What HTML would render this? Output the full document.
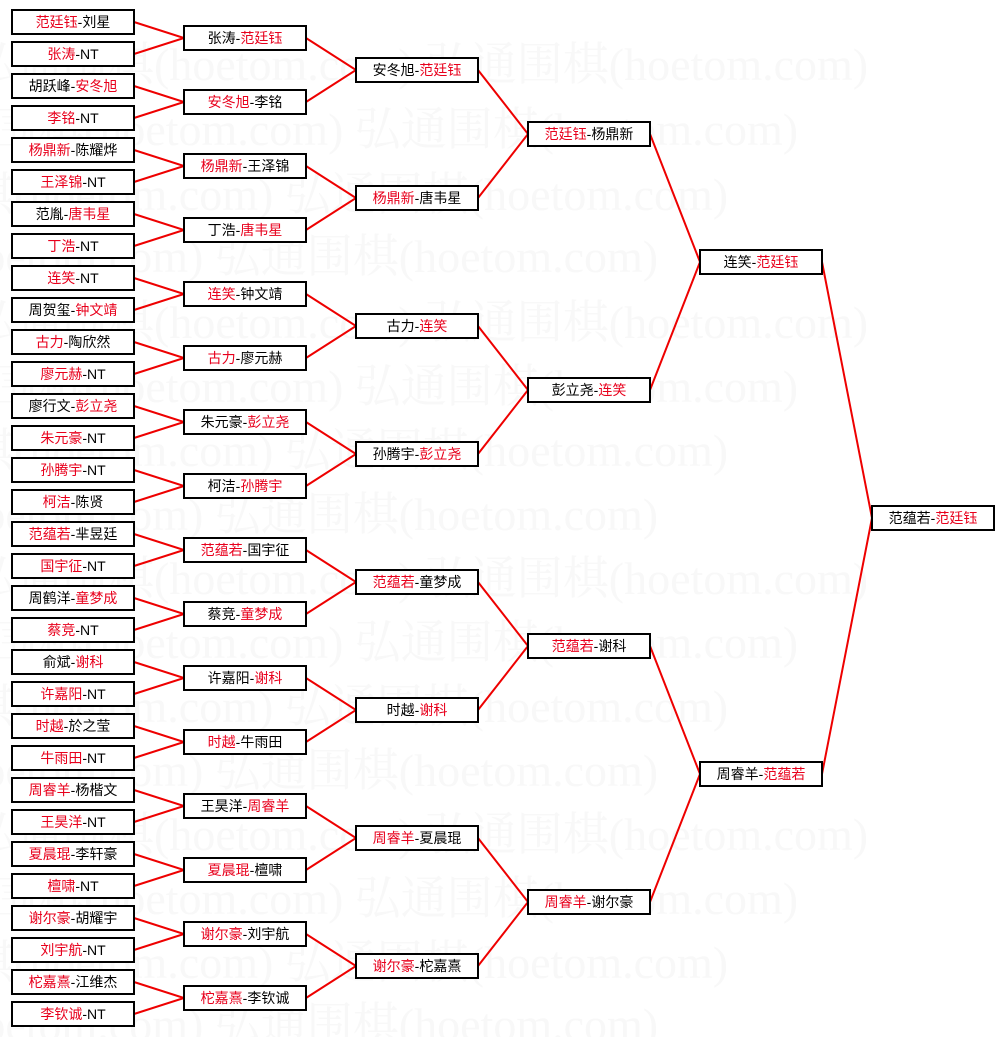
<!DOCTYPE html>
<html><head><meta charset="utf-8"><style>
html,body{margin:0;padding:0;background:#fff;width:1005px;height:1037px;overflow:hidden}
svg{display:block}
text{font-family:"Liberation Sans","Noto Sans CJK SC",sans-serif;font-size:14px;fill:#000}
.r{fill:#e8001c}
.w{font-size:46px;fill:#f8f8f8;font-family:"Liberation Serif","Noto Serif CJK SC",serif}
rect{fill:#fff;stroke:#000;stroke-width:2}
path{fill:none;stroke:#e00;stroke-width:2}
</style></head><body>
<svg width="1005" height="1037" xmlns="http://www.w3.org/2000/svg">
<g>
<text class="w" x="-30" y="80">弘通围棋(hoetom.com) 弘通围棋(hoetom.com)</text>
<text class="w" x="-100" y="145">弘通围棋(hoetom.com) 弘通围棋(hoetom.com)</text>
<text class="w" x="-170" y="210">弘通围棋(hoetom.com) 弘通围棋(hoetom.com)</text>
<text class="w" x="-240" y="272">弘通围棋(hoetom.com) 弘通围棋(hoetom.com)</text>
<text class="w" x="-30" y="338">弘通围棋(hoetom.com) 弘通围棋(hoetom.com)</text>
<text class="w" x="-100" y="402">弘通围棋(hoetom.com) 弘通围棋(hoetom.com)</text>
<text class="w" x="-170" y="466">弘通围棋(hoetom.com) 弘通围棋(hoetom.com)</text>
<text class="w" x="-240" y="530">弘通围棋(hoetom.com) 弘通围棋(hoetom.com)</text>
<text class="w" x="-30" y="594">弘通围棋(hoetom.com) 弘通围棋(hoetom.com)</text>
<text class="w" x="-100" y="658">弘通围棋(hoetom.com) 弘通围棋(hoetom.com)</text>
<text class="w" x="-170" y="722">弘通围棋(hoetom.com) 弘通围棋(hoetom.com)</text>
<text class="w" x="-240" y="786">弘通围棋(hoetom.com) 弘通围棋(hoetom.com)</text>
<text class="w" x="-30" y="850">弘通围棋(hoetom.com) 弘通围棋(hoetom.com)</text>
<text class="w" x="-100" y="914">弘通围棋(hoetom.com) 弘通围棋(hoetom.com)</text>
<text class="w" x="-170" y="978">弘通围棋(hoetom.com) 弘通围棋(hoetom.com)</text>
<text class="w" x="-240" y="1040">弘通围棋(hoetom.com) 弘通围棋(hoetom.com)</text>
</g>
<path d="M134,22L184,38L134,54 M134,86L184,102L134,118 M134,150L184,166L134,182 M134,214L184,230L134,246 M134,278L184,294L134,310 M134,342L184,358L134,374 M134,406L184,422L134,438 M134,470L184,486L134,502 M134,534L184,550L134,566 M134,598L184,614L134,630 M134,662L184,678L134,694 M134,726L184,742L134,758 M134,790L184,806L134,822 M134,854L184,870L134,886 M134,918L184,934L134,950 M134,982L184,998L134,1014
M306,38L356,70L306,102 M306,166L356,198L306,230 M306,294L356,326L306,358 M306,422L356,454L306,486 M306,550L356,582L306,614 M306,678L356,710L306,742 M306,806L356,838L306,870 M306,934L356,966L306,998
M478,70L528,134L478,198 M478,326L528,390L478,454 M478,582L528,646L478,710 M478,838L528,902L478,966
M650,134L700,262L650,390 M650,646L700,774L650,902
M822,262L872,518L822,774"/>
<g>
<rect x="12" y="10" width="122" height="24"/><text x="73" y="27" text-anchor="middle"><tspan class="r">范廷钰</tspan>-刘星</text>
<rect x="12" y="42" width="122" height="24"/><text x="73" y="59" text-anchor="middle"><tspan class="r">张涛</tspan>-NT</text>
<rect x="12" y="74" width="122" height="24"/><text x="73" y="91" text-anchor="middle">胡跃峰-<tspan class="r">安冬旭</tspan></text>
<rect x="12" y="106" width="122" height="24"/><text x="73" y="123" text-anchor="middle"><tspan class="r">李铭</tspan>-NT</text>
<rect x="12" y="138" width="122" height="24"/><text x="73" y="155" text-anchor="middle"><tspan class="r">杨鼎新</tspan>-陈耀烨</text>
<rect x="12" y="170" width="122" height="24"/><text x="73" y="187" text-anchor="middle"><tspan class="r">王泽锦</tspan>-NT</text>
<rect x="12" y="202" width="122" height="24"/><text x="73" y="219" text-anchor="middle">范胤-<tspan class="r">唐韦星</tspan></text>
<rect x="12" y="234" width="122" height="24"/><text x="73" y="251" text-anchor="middle"><tspan class="r">丁浩</tspan>-NT</text>
<rect x="12" y="266" width="122" height="24"/><text x="73" y="283" text-anchor="middle"><tspan class="r">连笑</tspan>-NT</text>
<rect x="12" y="298" width="122" height="24"/><text x="73" y="315" text-anchor="middle">周贺玺-<tspan class="r">钟文靖</tspan></text>
<rect x="12" y="330" width="122" height="24"/><text x="73" y="347" text-anchor="middle"><tspan class="r">古力</tspan>-陶欣然</text>
<rect x="12" y="362" width="122" height="24"/><text x="73" y="379" text-anchor="middle"><tspan class="r">廖元赫</tspan>-NT</text>
<rect x="12" y="394" width="122" height="24"/><text x="73" y="411" text-anchor="middle">廖行文-<tspan class="r">彭立尧</tspan></text>
<rect x="12" y="426" width="122" height="24"/><text x="73" y="443" text-anchor="middle"><tspan class="r">朱元豪</tspan>-NT</text>
<rect x="12" y="458" width="122" height="24"/><text x="73" y="475" text-anchor="middle"><tspan class="r">孙腾宇</tspan>-NT</text>
<rect x="12" y="490" width="122" height="24"/><text x="73" y="507" text-anchor="middle"><tspan class="r">柯洁</tspan>-陈贤</text>
<rect x="12" y="522" width="122" height="24"/><text x="73" y="539" text-anchor="middle"><tspan class="r">范蕴若</tspan>-芈昱廷</text>
<rect x="12" y="554" width="122" height="24"/><text x="73" y="571" text-anchor="middle"><tspan class="r">国宇征</tspan>-NT</text>
<rect x="12" y="586" width="122" height="24"/><text x="73" y="603" text-anchor="middle">周鹤洋-<tspan class="r">童梦成</tspan></text>
<rect x="12" y="618" width="122" height="24"/><text x="73" y="635" text-anchor="middle"><tspan class="r">蔡竞</tspan>-NT</text>
<rect x="12" y="650" width="122" height="24"/><text x="73" y="667" text-anchor="middle">俞斌-<tspan class="r">谢科</tspan></text>
<rect x="12" y="682" width="122" height="24"/><text x="73" y="699" text-anchor="middle"><tspan class="r">许嘉阳</tspan>-NT</text>
<rect x="12" y="714" width="122" height="24"/><text x="73" y="731" text-anchor="middle"><tspan class="r">时越</tspan>-於之莹</text>
<rect x="12" y="746" width="122" height="24"/><text x="73" y="763" text-anchor="middle"><tspan class="r">牛雨田</tspan>-NT</text>
<rect x="12" y="778" width="122" height="24"/><text x="73" y="795" text-anchor="middle"><tspan class="r">周睿羊</tspan>-杨楷文</text>
<rect x="12" y="810" width="122" height="24"/><text x="73" y="827" text-anchor="middle"><tspan class="r">王昊洋</tspan>-NT</text>
<rect x="12" y="842" width="122" height="24"/><text x="73" y="859" text-anchor="middle"><tspan class="r">夏晨琨</tspan>-李轩豪</text>
<rect x="12" y="874" width="122" height="24"/><text x="73" y="891" text-anchor="middle"><tspan class="r">檀啸</tspan>-NT</text>
<rect x="12" y="906" width="122" height="24"/><text x="73" y="923" text-anchor="middle"><tspan class="r">谢尔豪</tspan>-胡耀宇</text>
<rect x="12" y="938" width="122" height="24"/><text x="73" y="955" text-anchor="middle"><tspan class="r">刘宇航</tspan>-NT</text>
<rect x="12" y="970" width="122" height="24"/><text x="73" y="987" text-anchor="middle"><tspan class="r">柁嘉熹</tspan>-江维杰</text>
<rect x="12" y="1002" width="122" height="24"/><text x="73" y="1019" text-anchor="middle"><tspan class="r">李钦诚</tspan>-NT</text>
</g>
<g>
<rect x="184" y="26" width="122" height="24"/><text x="245" y="43" text-anchor="middle">张涛-<tspan class="r">范廷钰</tspan></text>
<rect x="184" y="90" width="122" height="24"/><text x="245" y="107" text-anchor="middle"><tspan class="r">安冬旭</tspan>-李铭</text>
<rect x="184" y="154" width="122" height="24"/><text x="245" y="171" text-anchor="middle"><tspan class="r">杨鼎新</tspan>-王泽锦</text>
<rect x="184" y="218" width="122" height="24"/><text x="245" y="235" text-anchor="middle">丁浩-<tspan class="r">唐韦星</tspan></text>
<rect x="184" y="282" width="122" height="24"/><text x="245" y="299" text-anchor="middle"><tspan class="r">连笑</tspan>-钟文靖</text>
<rect x="184" y="346" width="122" height="24"/><text x="245" y="363" text-anchor="middle"><tspan class="r">古力</tspan>-廖元赫</text>
<rect x="184" y="410" width="122" height="24"/><text x="245" y="427" text-anchor="middle">朱元豪-<tspan class="r">彭立尧</tspan></text>
<rect x="184" y="474" width="122" height="24"/><text x="245" y="491" text-anchor="middle">柯洁-<tspan class="r">孙腾宇</tspan></text>
<rect x="184" y="538" width="122" height="24"/><text x="245" y="555" text-anchor="middle"><tspan class="r">范蕴若</tspan>-国宇征</text>
<rect x="184" y="602" width="122" height="24"/><text x="245" y="619" text-anchor="middle">蔡竞-<tspan class="r">童梦成</tspan></text>
<rect x="184" y="666" width="122" height="24"/><text x="245" y="683" text-anchor="middle">许嘉阳-<tspan class="r">谢科</tspan></text>
<rect x="184" y="730" width="122" height="24"/><text x="245" y="747" text-anchor="middle"><tspan class="r">时越</tspan>-牛雨田</text>
<rect x="184" y="794" width="122" height="24"/><text x="245" y="811" text-anchor="middle">王昊洋-<tspan class="r">周睿羊</tspan></text>
<rect x="184" y="858" width="122" height="24"/><text x="245" y="875" text-anchor="middle"><tspan class="r">夏晨琨</tspan>-檀啸</text>
<rect x="184" y="922" width="122" height="24"/><text x="245" y="939" text-anchor="middle"><tspan class="r">谢尔豪</tspan>-刘宇航</text>
<rect x="184" y="986" width="122" height="24"/><text x="245" y="1003" text-anchor="middle"><tspan class="r">柁嘉熹</tspan>-李钦诚</text>
</g>
<g>
<rect x="356" y="58" width="122" height="24"/><text x="417" y="75" text-anchor="middle">安冬旭-<tspan class="r">范廷钰</tspan></text>
<rect x="356" y="186" width="122" height="24"/><text x="417" y="203" text-anchor="middle"><tspan class="r">杨鼎新</tspan>-唐韦星</text>
<rect x="356" y="314" width="122" height="24"/><text x="417" y="331" text-anchor="middle">古力-<tspan class="r">连笑</tspan></text>
<rect x="356" y="442" width="122" height="24"/><text x="417" y="459" text-anchor="middle">孙腾宇-<tspan class="r">彭立尧</tspan></text>
<rect x="356" y="570" width="122" height="24"/><text x="417" y="587" text-anchor="middle"><tspan class="r">范蕴若</tspan>-童梦成</text>
<rect x="356" y="698" width="122" height="24"/><text x="417" y="715" text-anchor="middle">时越-<tspan class="r">谢科</tspan></text>
<rect x="356" y="826" width="122" height="24"/><text x="417" y="843" text-anchor="middle"><tspan class="r">周睿羊</tspan>-夏晨琨</text>
<rect x="356" y="954" width="122" height="24"/><text x="417" y="971" text-anchor="middle"><tspan class="r">谢尔豪</tspan>-柁嘉熹</text>
</g>
<g>
<rect x="528" y="122" width="122" height="24"/><text x="589" y="139" text-anchor="middle"><tspan class="r">范廷钰</tspan>-杨鼎新</text>
<rect x="528" y="378" width="122" height="24"/><text x="589" y="395" text-anchor="middle">彭立尧-<tspan class="r">连笑</tspan></text>
<rect x="528" y="634" width="122" height="24"/><text x="589" y="651" text-anchor="middle"><tspan class="r">范蕴若</tspan>-谢科</text>
<rect x="528" y="890" width="122" height="24"/><text x="589" y="907" text-anchor="middle"><tspan class="r">周睿羊</tspan>-谢尔豪</text>
</g>
<g>
<rect x="700" y="250" width="122" height="24"/><text x="761" y="267" text-anchor="middle">连笑-<tspan class="r">范廷钰</tspan></text>
<rect x="700" y="762" width="122" height="24"/><text x="761" y="779" text-anchor="middle">周睿羊-<tspan class="r">范蕴若</tspan></text>
<rect x="872" y="506" width="122" height="24"/><text x="933" y="523" text-anchor="middle">范蕴若-<tspan class="r">范廷钰</tspan></text>
</g>
</svg>
</body></html>
